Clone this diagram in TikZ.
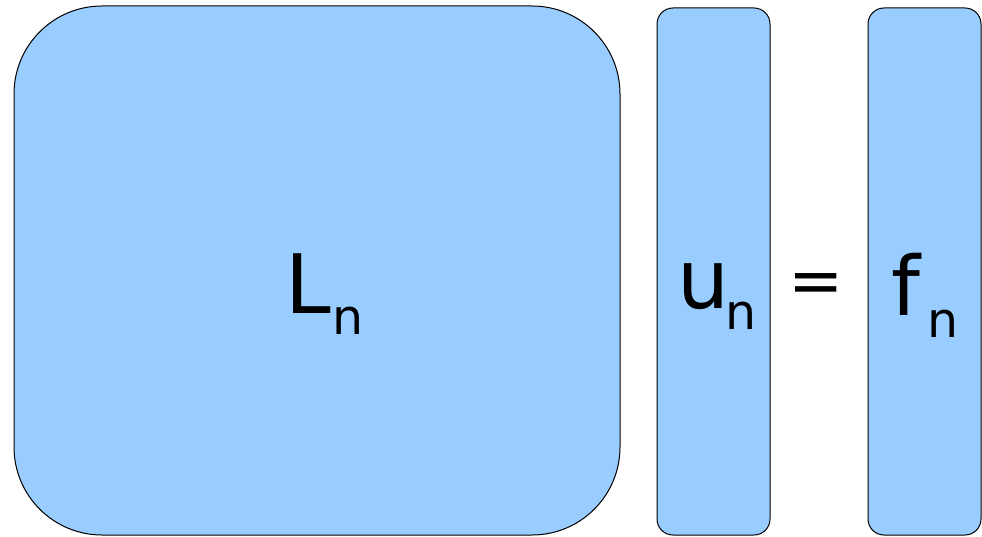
\documentclass[tikz,border=0pt]{standalone}
\usepackage{fontspec}
\setmainfont{DejaVu Sans}
\begin{document}
\begin{tikzpicture}[x=1pt,y=-1pt,
  box/.style={draw=black,line width=1pt,fill=boxblue},
  big/.style={inner sep=0pt,anchor=base west,font=\fontsize{82}{82}\selectfont},
  sub/.style={inner sep=0pt,anchor=base west,font=\fontsize{49}{49}\selectfont}]
\definecolor{boxblue}{HTML}{99CCFF}
\useasboundingbox (0,0) rectangle (982,537);
\draw[box,rounded corners=88pt] (14,6) rectangle (620,535);
\draw[box,rounded corners=16pt] (657,8) rectangle (770,535);
\draw[box,rounded corners=16pt] (868,8) rectangle (981,535);
\node[big] (L) at (285,313) {L};
\node[sub] (Ln) at (332.5,334) {n};
\node[big] (u) at (677,308) {u};
\node[sub] (un) at (725.5,329) {n};
\node[inner sep=0pt,anchor=base,font=\fontsize{66}{66}\selectfont] (eq) at (816,303) {=};
\node[big] (f) at (891,315) {f};
\node[sub] (fn) at (927.5,337) {n};
\end{tikzpicture}
\end{document}
